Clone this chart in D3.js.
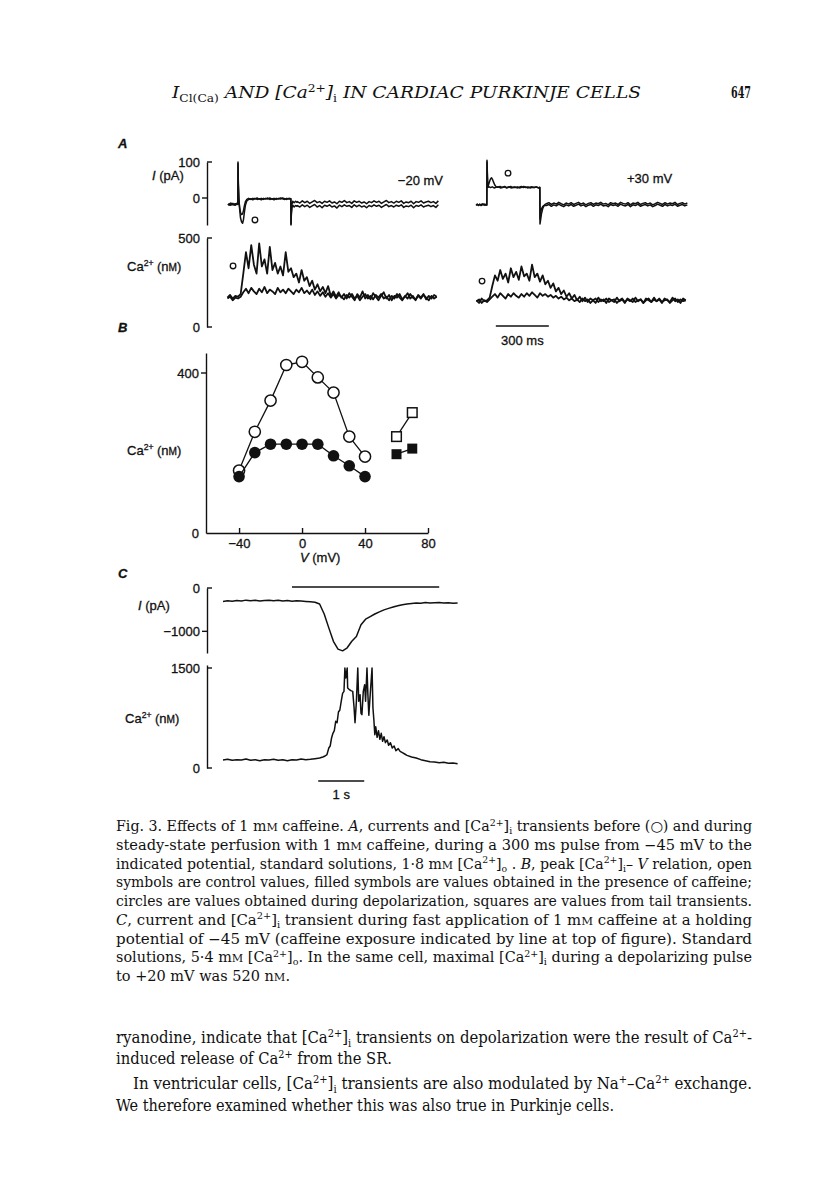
<!DOCTYPE html>
<html>
<head>
<meta charset="utf-8">
<script src="https://cdn.jsdelivr.net/npm/d3@7"></script>
<style>
  body { margin: 0; background: #fff; }
  svg { display: block; }
</style>
</head>
<body>
<script>
// ---- panel A : currents (pA) and [Ca2+]i (nM), time in ms from pulse onset
const aLeftCurrentCtrl = [[-57,-17],[-50,-20],[-43,-14],[-36,-19],[-29,-15],[-22,-20],[-15,-16],[-8,-18],[-1,-17],[0,100],[2,40],[5,0],[9,-30],[14,-55],[20,-66],[26,-70],[31,-60],[36,-40],[42,-20],[50,-8],[60,-4],[72,-2],[84,-5],[96,-1],[108,-4],[120,-2],[132,-5],[144,-1],[156,-3],[168,0],[180,-4],[192,-2],[204,-5],[216,-1],[228,-3],[240,0],[252,-2],[264,-4],[276,-1],[288,-3],[299,-2],[300,-75],[302,-40],[305,-18],[310,-9],[318,-13],[326,-9],[334,-12]];
const aLeftCurrentCaf = [[-57,-19],[-50,-16],[-43,-20],[-36,-15],[-29,-19],[-22,-16],[-15,-20],[-8,-15],[-1,-18],[0,95],[2,35],[5,-5],[9,-25],[14,-40],[20,-46],[26,-44],[31,-35],[36,-22],[42,-10],[50,-4],[60,-1],[72,-4],[84,-1],[96,-3],[108,0],[120,-3],[132,-1],[144,-4],[156,-1],[168,-3],[180,0],[192,-3],[204,-1],[216,-4],[228,-1],[240,-3],[252,0],[264,-2],[276,-4],[288,-1],[299,-2],[300,-72],[302,-45],[305,-28],[310,-20],[318,-25],[326,-21],[334,-23]];
const aRightCurrentCtrl = [[-62,-19],[-55,-17],[-48,-21],[-41,-18],[-34,-20],[-27,-16],[-20,-19],[-13,-17],[-6,-20],[-1,-18],[0,105],[2,70],[4,40],[7,34],[11,40],[16,48],[21,54],[26,56],[31,52],[37,44],[44,36],[52,31],[62,30],[74,32],[86,29],[98,31],[110,28],[122,30],[134,32],[146,29],[158,31],[170,28],[182,30],[194,32],[206,29],[218,31],[230,28],[242,30],[254,31],[266,29],[278,31],[290,28],[299,30],[300,-72],[303,-62],[308,-45],[315,-30],[322,-22],[330,-17]];
const aRightCurrentCaf = [[-62,-21],[-55,-18],[-48,-20],[-41,-17],[-34,-21],[-27,-19],[-20,-17],[-13,-20],[-6,-18],[-1,-20],[0,100],[2,60],[4,36],[7,30],[12,31],[20,29],[30,31],[40,28],[52,30],[64,31],[76,28],[88,30],[100,32],[112,29],[124,31],[136,28],[148,30],[160,29],[172,31],[184,28],[196,30],[208,32],[220,29],[232,31],[244,28],[256,30],[268,29],[280,31],[292,28],[299,29],[300,-58],[303,-42],[308,-30],[315,-24],[322,-21],[330,-20]];
// noisy holding current after the tail, sampled every 14 ms from 336 ms
const aTailStart = 336, aTailStep = 14;
const aLeftTailCtrl = [-10,-14,-8,-13,-9,-15,-11,-7,-13,-10,-15,-9,-12,-8,-14,-11,-16,-9,-12,-7,-13,-10,-15,-8,-12,-9,-14,-11,-16,-10,-13,-8,-12,-9,-15,-11,-7,-13,-10,-14,-9,-12,-8,-15,-11,-13,-9,-16,-10,-12,-8,-14,-11,-9,-13,-10,-15,-8];
const aLeftTailCaf = [-21,-25,-19,-24,-20,-26,-22,-18,-25,-21,-27,-20,-23,-19,-25,-22,-28,-20,-24,-19,-23,-21,-26,-19,-24,-20,-25,-22,-27,-21,-24,-19,-23,-20,-26,-22,-18,-24,-21,-25,-20,-23,-19,-26,-22,-24,-20,-27,-21,-23,-19,-25,-22,-20,-24,-21,-26,-19];
const aRightTailCtrl = [-16,-13,-18,-14,-17,-12,-16,-19,-14,-17,-13,-18,-15,-12,-17,-14,-19,-15,-13,-18,-14,-16,-12,-17,-15,-19,-13,-16,-14,-18,-12,-15,-17,-13,-19,-14,-16,-12,-18,-15,-13,-17,-14,-19,-16,-12,-15,-18,-13,-17,-14,-16,-12,-18,-15,-13,-17,-14];
const aRightTailCaf = [-21,-18,-23,-19,-22,-17,-21,-24,-19,-22,-18,-23,-20,-17,-22,-19,-24,-20,-18,-23,-19,-21,-17,-22,-20,-24,-18,-21,-19,-23,-17,-20,-22,-18,-24,-19,-21,-17,-23,-20,-18,-22,-19,-24,-21,-17,-20,-23,-18,-22,-19,-21,-17,-23,-20,-18,-22,-19];
// [Ca2+]i, sampled every 15 ms from -60 ms
const aCaStart = -60, aCaStep = 15;
const aLeftCaCtrl = [165,180,160,175,170,185,300,420,330,460,350,300,470,340,380,300,450,320,360,300,340,290,420,310,330,280,300,250,320,260,280,230,260,210,240,200,225,190,230,175,200,170,195,165,185,160,190,170,150,185,165,200,160,180,155,190,170,150,175,195,160,180,150,175,165,185,155,170,190,160,175,150,180,165,185,155,175,160,180,170];
const aLeftCaCaf = [160,170,150,165,160,170,195,215,190,220,200,185,215,195,225,190,210,200,185,220,195,210,190,215,200,185,210,195,220,190,205,185,210,180,200,175,195,170,190,165,185,160,180,170,155,180,165,185,160,175,150,170,185,160,175,155,180,165,185,160,170,150,175,160,185,165,150,175,160,185,165,155,175,160,180,165,150,175,160,170];
const aRightCaCtrl = [150,135,160,145,150,165,230,290,260,320,270,300,250,330,280,310,265,340,285,300,260,350,280,300,255,290,240,260,220,245,200,220,185,205,170,190,160,180,150,170,145,165,140,160,150,135,165,145,155,135,160,150,140,165,145,155,135,160,150,140,165,145,155,135,160,150,140,165,145,155,135,160,150,140,165,145,155,135,160,150];
const aRightCaCaf = [145,155,135,150,140,155,170,185,165,190,175,160,185,170,190,175,165,185,170,190,175,195,180,165,190,175,185,170,180,165,175,160,170,155,165,150,160,145,155,140,160,145,155,135,150,160,140,155,145,160,140,150,155,135,150,160,140,155,145,160,140,150,155,135,150,160,140,155,145,160,140,150,155,135,150,160,140,155,145,150];
const aCurrentTicks = [100, 0];
const aCaTicks = [500, 0];

// ---- panel B : peak [Ca2+]i - V
const bVoltage = [-40, -30, -20, -10, 0, 10, 20, 30, 40];
const bCaCtrl = [156, 253, 331, 420, 428, 389, 351, 241, 191];
const bCaCaf = [141, 201, 222, 222, 222, 222, 193, 168, 141];
const bTailVoltage = [60, 70];
const bTailCtrl = [241, 301];
const bTailCaf = [197, 211];
const bVTicks = [-40, 0, 40, 80];
const bCaTicks = [0, 400];

// ---- panel C : fast caffeine application (time in s)
const cCurrentStep = 0.1;
const cCurrent = [-310,-295,-305,-290,-300,-280,-295,-285,-300,-290,-280,-295,-285,-300,-290,-305,-295,-300,-310,-320,-330,-370,-600,-920,-1230,-1410,-1450,-1380,-1230,-1120,-850,-720,-660,-600,-550,-505,-470,-440,-410,-385,-370,-355,-345,-350,-335,-345,-340,-335,-345,-340,-350,-345];
const cCa = [[0,120],[0.1,130],[0.2,115],[0.3,125],[0.4,120],[0.5,135],[0.6,115],[0.7,125],[0.8,110],[0.9,125],[1.0,120],[1.1,130],[1.2,115],[1.3,125],[1.4,110],[1.5,125],[1.6,120],[1.7,135],[1.8,125],[1.9,130],[2.0,140],[2.1,150],[2.17,165],[2.22,180],[2.26,200],[2.3,300],[2.33,330],[2.36,450],[2.39,520],[2.42,560],[2.45,700],[2.48,680],[2.51,840],[2.54,870],[2.57,1000],[2.6,1120],[2.63,1150],[2.65,1500],[2.67,1350],[2.7,1500],[2.71,1200],[2.74,1180],[2.78,1160],[2.82,1150],[2.85,900],[2.87,680],[2.9,1000],[2.93,1500],[2.95,1000],[2.98,1100],[3.0,820],[3.02,800],[3.05,1150],[3.08,1250],[3.1,1000],[3.13,1500],[3.15,1100],[3.17,790],[3.2,1100],[3.22,1300],[3.24,1500],[3.26,900],[3.28,720],[3.3,500],[3.32,620],[3.35,460],[3.38,560],[3.41,430],[3.44,520],[3.47,400],[3.5,470],[3.53,380],[3.57,420],[3.6,340],[3.64,380],[3.68,300],[3.72,330],[3.76,260],[3.81,290],[3.85,250],[3.9,230],[3.95,210],[4.0,190],[4.1,165],[4.2,150],[4.3,125],[4.4,110],[4.5,95],[4.6,90],[4.7,80],[4.8,85],[4.9,70],[5.0,75],[5.1,65]];
const cCaffeineOn = [1.5, 4.7];
const cCurrentTicks = [0, -1000];
const cCaTicks = [1500, 0];

// ---- texts
const headerText = 'I_{Cl(Ca)} AND [Ca^{2+}]_{i} IN CARDIAC PURKINJE CELLS';
const pageNumber = '647';
const captionLines = [
  'Fig. 3. Effects of 1 m~M~ caffeine. *A*, currents and [Ca^{2+}]_{i} transients before (○) and during',
  'steady-state perfusion with 1 m~M~ caffeine, during a 300 ms pulse from −45 mV to the',
  'indicated potential, standard solutions, 1·8 m~M~ [Ca^{2+}]_{o} . *B*, peak [Ca^{2+}]_{i}– *V* relation, open',
  'symbols are control values, filled symbols are values obtained in the presence of caffeine;',
  'circles are values obtained during depolarization, squares are values from tail transients.',
  '*C*, current and [Ca^{2+}]_{i} transient during fast application of 1 m~M~ caffeine at a holding',
  'potential of −45 mV (caffeine exposure indicated by line at top of figure). Standard',
  'solutions, 5·4 m~M~ [Ca^{2+}]_{o}. In the same cell, maximal [Ca^{2+}]_{i} during a depolarizing pulse',
  'to +20 mV was 520 n~M~.'
];
const bodyLines = [
  'ryanodine, indicate that [Ca^{2+}]_{i} transients on depolarization were the result of Ca^{2+}-',
  'induced release of Ca^{2+} from the SR.',
  'In ventricular cells, [Ca^{2+}]_{i} transients are also modulated by Na^{+}–Ca^{2+} exchange.',
  'We therefore examined whether this was also true in Purkinje cells.'
];

const INK = '#111';
const SANS = "'Liberation Sans', Arial, Helvetica, sans-serif";
const SERIF = "'DejaVu Serif Condensed', 'DejaVu Serif', serif";

const svg = d3.select('body').append('svg')
  .attr('width', 816).attr('height', 1200)
  .style('background', '#fff');

// simple markup: ^{sup} _{sub} *italic* ~smallcaps~
function rich(text, str, size) {
  const parts = str.split(/(\^\{[^}]*\}|_\{[^}]*\}|\*[^*]+\*|~[^~]+~)/g).filter(s => s.length);
  let shift = 0;
  parts.forEach(p => {
    let txt = p, target = 0, fs = null, fst = null;
    if (p.startsWith('^{')) { txt = p.slice(2, -1); target = -0.38 * size; fs = 0.66 * size; fst = 'normal'; }
    else if (p.startsWith('_{')) { txt = p.slice(2, -1); target = 0.22 * size; fs = 0.66 * size; fst = 'normal'; }
    else if (p.length > 1 && p.startsWith('*') && p.endsWith('*')) { txt = p.slice(1, -1); fst = 'italic'; }
    else if (p.length > 1 && p.startsWith('~') && p.endsWith('~')) { txt = p.slice(1, -1); fs = 0.78 * size; }
    const t = text.append('tspan').text(txt);
    if (target !== shift) { t.attr('dy', target - shift); shift = target; }
    if (fs) t.attr('font-size', fs);
    if (fst) t.attr('font-style', fst);
  });
  return text;
}

function label(x, y, str, opts = {}) {
  const size = opts.size || 13;
  const t = svg.append('text')
    .attr('x', x).attr('y', y)
    .attr('font-family', opts.family || SANS)
    .attr('font-size', size)
    .attr('fill', INK)
    .attr('text-anchor', opts.anchor || 'start');
  if (!opts.family) t.attr('stroke', INK).attr('stroke-width', 0.3);
  if (opts.italic) t.attr('font-style', 'italic');
  if (opts.bold) t.attr('font-weight', 'bold');
  if (opts.width) t.attr('textLength', opts.width).attr('lengthAdjust', 'spacingAndGlyphs');
  return rich(t, str, size);
}

// vertical axis: labels via d3.axisLeft, ticks pointing in (+) or out (-)
function leftAxis(scale, x, ticks, inward, outward) {
  const g = svg.append('g').attr('transform', `translate(${x},0)`);
  g.call(d3.axisLeft(scale).tickValues(ticks).tickSize(0).tickSizeOuter(0).tickPadding(7).tickFormat(d3.format('d')));
  g.select('.domain').attr('stroke', INK).attr('stroke-width', 1.4);
  g.selectAll('.tick line').remove();
  g.selectAll('.tick text').attr('font-family', SANS).attr('font-size', 13).attr('fill', INK)
    .attr('stroke', INK).attr('stroke-width', 0.3);
  inward.forEach(v => g.append('line').attr('x1', 0).attr('x2', 5).attr('y1', scale(v)).attr('y2', scale(v)).attr('stroke', INK).attr('stroke-width', 1.4));
  outward.forEach(v => g.append('line').attr('x1', -5).attr('x2', 0).attr('y1', scale(v)).attr('y2', scale(v)).attr('stroke', INK).attr('stroke-width', 1.4));
  return g;
}

function trace(pts, x, y, w) {
  svg.append('path')
    .datum(pts)
    .attr('d', d3.line().x(d => x(d[0])).y(d => y(d[1])))
    .attr('fill', 'none')
    .attr('stroke', INK)
    .attr('stroke-width', w)
    .attr('stroke-linejoin', 'round');
}
const sampled = (vals, start, step) => vals.map((v, i) => [start + i * step, v]);

// ---------------- header
label(172, 98, headerText, { family: SERIF, size: 17, italic: true, width: 469 });
label(731, 98, pageNumber, { family: SERIF, size: 16, bold: true, width: 20 });

// ---------------- panel A
label(118, 148, 'A', { size: 13, italic: true, bold: true });
const xAL = d3.scaleLinear().domain([0, 300]).range([238, 291]);
const xAR = d3.scaleLinear().domain([0, 300]).range([487, 540]);
const yAI = d3.scaleLinear().domain([-75, 100]).range([225, 162]);
const yACa = d3.scaleLinear().domain([0, 500]).range([327, 238]);

leftAxis(yAI, 207, aCurrentTicks, [100], [0]);
leftAxis(yACa, 207, aCaTicks, [500, 0], []);
label(152, 180, '*I* (pA)');
label(127, 271, 'Ca^{2+} (n~M~)');

trace(aLeftCurrentCaf.concat(sampled(aLeftTailCaf, aTailStart, aTailStep)), xAL, yAI, 1.5);
trace(aLeftCurrentCtrl.concat(sampled(aLeftTailCtrl, aTailStart, aTailStep)), xAL, yAI, 1.5);
trace(aRightCurrentCaf.concat(sampled(aRightTailCaf, aTailStart, aTailStep)), xAR, yAI, 1.5);
trace(aRightCurrentCtrl.concat(sampled(aRightTailCtrl, aTailStart, aTailStep)), xAR, yAI, 1.5);
trace(sampled(aLeftCaCaf, aCaStart, aCaStep), xAL, yACa, 1.8);
trace(sampled(aLeftCaCtrl, aCaStart, aCaStep), xAL, yACa, 1.8);
trace(sampled(aRightCaCaf, aCaStart, aCaStep), xAR, yACa, 1.8);
trace(sampled(aRightCaCtrl, aCaStart, aCaStep), xAR, yACa, 1.8);

// control markers (o)
[[xAL, yAI, 96, -61], [xAL, yACa, -28, 343], [xAR, yAI, 119, 69], [xAR, yACa, -28, 258]].forEach(([x, y, t, v]) => {
  svg.append('circle').attr('cx', x(t)).attr('cy', y(v)).attr('r', 2.8)
    .attr('fill', '#fff').attr('stroke', INK).attr('stroke-width', 1.3);
});
label(443, 185, '−20 mV', { anchor: 'end' });
label(627, 183, '+30 mV');

// 300 ms scale bar
svg.append('line').attr('x1', xAR(50)).attr('x2', xAR(350)).attr('y1', 326).attr('y2', 326)
  .attr('stroke', INK).attr('stroke-width', 1.5);
label((xAR(50) + xAR(350)) / 2, 345, '300 ms', { anchor: 'middle' });

// ---------------- panel B
label(118, 332, 'B', { size: 13, italic: true, bold: true });
const xB = d3.scaleLinear().domain([-61, 80]).range([206, 428]);
const yB = d3.scaleLinear().domain([0, 450]).range([533, 353]);
leftAxis(yB, 206, bCaTicks, [], [400]);
const gx = svg.append('g').attr('transform', 'translate(0,533)')
  .call(d3.axisBottom(xB).tickValues(bVTicks).tickSize(-5).tickSizeOuter(0).tickPadding(6).tickFormat(d3.format('d')));
gx.select('.domain').attr('stroke', INK).attr('stroke-width', 1.4);
gx.selectAll('.tick line').attr('stroke', INK).attr('stroke-width', 1.4);
gx.selectAll('.tick text').attr('font-family', SANS).attr('font-size', 13).attr('fill', INK)
  .attr('stroke', INK).attr('stroke-width', 0.3);
label(300, 562, '*V*  (mV)');
label(127, 455, 'Ca^{2+} (n~M~)');

const lineB = d3.line().x(d => xB(d[0])).y(d => yB(d[1]));
const ctrlPts = bVoltage.map((v, i) => [v, bCaCtrl[i]]);
const cafPts = bVoltage.map((v, i) => [v, bCaCaf[i]]);
const tailCtrlPts = bTailVoltage.map((v, i) => [v, bTailCtrl[i]]);
const tailCafPts = bTailVoltage.map((v, i) => [v, bTailCaf[i]]);
[ctrlPts, tailCtrlPts].forEach(p => svg.append('path').attr('d', lineB(p)).attr('fill', 'none').attr('stroke', INK).attr('stroke-width', 1.3));
svg.selectAll('circle.ctrl').data(ctrlPts).enter().append('circle')
  .attr('cx', d => xB(d[0])).attr('cy', d => yB(d[1])).attr('r', 5.6)
  .attr('fill', '#fff').attr('stroke', INK).attr('stroke-width', 1.5);
[cafPts, tailCafPts].forEach(p => svg.append('path').attr('d', lineB(p)).attr('fill', 'none').attr('stroke', INK).attr('stroke-width', 1.3));
svg.selectAll('circle.caf').data(cafPts).enter().append('circle')
  .attr('cx', d => xB(d[0])).attr('cy', d => yB(d[1])).attr('r', 5.8)
  .attr('fill', INK);
svg.selectAll('rect.tctrl').data(tailCtrlPts).enter().append('rect')
  .attr('x', d => xB(d[0]) - 4.8).attr('y', d => yB(d[1]) - 4.8).attr('width', 9.6).attr('height', 9.6)
  .attr('fill', '#fff').attr('stroke', INK).attr('stroke-width', 1.5);
svg.selectAll('rect.tcaf').data(tailCafPts).enter().append('rect')
  .attr('x', d => xB(d[0]) - 5).attr('y', d => yB(d[1]) - 5).attr('width', 10).attr('height', 10)
  .attr('fill', INK);

// ---------------- panel C
label(118, 578, 'C', { size: 13, italic: true, bold: true });
const xC = d3.scaleLinear().domain([0, 1]).range([223, 269]);
const yCI = d3.scaleLinear().domain([-1500, 0]).range([653, 588]);
const yCCa = d3.scaleLinear().domain([0, 1545]).range([768, 665]);
leftAxis(yCI, 207, cCurrentTicks, [0], [-1000]);
leftAxis(yCCa, 207, cCaTicks, [0, 1500], []);
label(138, 610, '*I* (pA)');
label(125, 723, 'Ca^{2+} (n~M~)');

svg.append('line').attr('x1', xC(cCaffeineOn[0])).attr('x2', xC(cCaffeineOn[1]))
  .attr('y1', yCI(0) - 1).attr('y2', yCI(0) - 1).attr('stroke', INK).attr('stroke-width', 1.4);
trace(sampled(cCurrent, 0, cCurrentStep), xC, yCI, 1.5);
trace(cCa, xC, yCCa, 1.5);

// 1 s scale bar
svg.append('line').attr('x1', xC(2.07)).attr('x2', xC(3.07)).attr('y1', 781).attr('y2', 781)
  .attr('stroke', INK).attr('stroke-width', 1.5);
label((xC(2.07) + xC(3.07)) / 2, 799, '1 s', { anchor: 'middle' });

// ---------------- caption and body text
captionLines.forEach((s, i) => {
  const last = i === captionLines.length - 1;
  label(116, 831 + i * 18.75, s, { family: SERIF, size: 14, width: last ? 174 : 636 });
});
const bodyX = [116, 116, 133, 116];
const bodyY = [1043, 1064, 1089, 1111];
const bodyW = [636, 276, 619, 498];
bodyLines.forEach((s, i) => label(bodyX[i], bodyY[i], s, { family: SERIF, size: 16.5, width: bodyW[i] }));
</script>
</body>
</html>
